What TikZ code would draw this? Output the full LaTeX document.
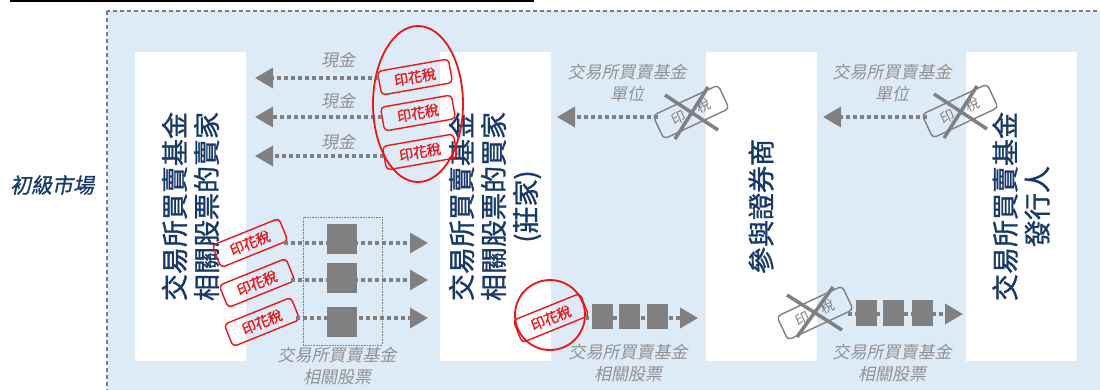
\documentclass[tikz,border=0pt]{standalone}
\usepackage{fontspec}
\newfontfamily\tcfont{Noto Sans CJK TC}
\newfontfamily\tcbold{Noto Sans CJK TC}[FakeBold=1.2]
\newfontfamily\tcslant{Noto Sans CJK TC}[FakeSlant=0.2]
\newfontfamily\tcslantbold{Noto Sans CJK TC}[FakeSlant=0.2, FakeBold=1]
\usepackage{tikz}
\usetikzlibrary{arrows.meta, positioning}

\definecolor{bgblue}{RGB}{221,235,247}
\definecolor{rimblue}{RGB}{100,130,160}
\definecolor{navy}{RGB}{24,58,105}
\definecolor{stampred}{RGB}{240,20,20}
\definecolor{flowgray}{RGB}{128,128,128}
\definecolor{notegray}{RGB}{145,145,145}

\tikzset{
  party/.style={fill=white, rotate=90, minimum width=309, minimum height=111,
    inner sep=0, text=navy, align=center, font=\tcbold\fontsize{27}{32}\selectfont},
  flow/.style={draw=flowgray, line width=3.5pt, dash pattern=on 3.5pt off 3.5pt,
    -{Triangle[length=18pt,width=20pt]}},
  stamp/.style={draw=stampred, text=stampred, line width=1.4pt, rounded corners=4pt,
    minimum width=72, minimum height=24, inner sep=0, rotate=10,
    font=\tcbold\fontsize{14}{14}\selectfont},
  nostamp/.style={stamp, draw=flowgray, text=flowgray, rotate=15, minimum height=26,
    font=\tcfont\fontsize{14}{14}\selectfont},
  cross/.style={draw=flowgray, line width=3.5pt},
  lot/.style={fill=flowgray, minimum width=21, minimum height=25, inner sep=0},
  note/.style={text=notegray, align=center, inner sep=0,
    font=\tcslant\fontsize{17}{22}\selectfont},
}

\begin{document}
\begin{tikzpicture}[x=1pt, y=-1pt]
    \useasboundingbox (0,0) rectangle (1100,389);
    \clip (0,0) rectangle (1100,389);
    % frame and title rule
    \draw[black, line width=2.5pt] (10,1) -- (534,1);
    \draw[rimblue, fill=bgblue, line width=1.2pt, dash pattern=on 4pt off 3pt] (107,11) rectangle (1120,410);
    \node[text=navy, font=\tcslantbold\fontsize{21}{21}\selectfont] (market) at (52,185) {初級市場};

    % the four parties
    \node[party] (seller) at (190.5,206.5) {交易所買賣基金\\相關股票的賣家};
    \node[party] (buyer) at (495,206.5) {交易所買賣基金\\相關股票的買家\\(莊家)};
    \node[party] (broker) at (761,206.5) {參與證券商};
    \node[party] (issuer) at (1021,206.5) {交易所買賣基金\\發行人};

    % cash back to the seller
    \node[stamp] (taxA) at (415,77) {印花稅};
    \node[stamp] (taxB) at (418,113) {印花稅};
    \node[stamp] (taxC) at (420,152) {印花稅};
    \coordinate (cashA) at (255,78);
    \coordinate (cashB) at (255,117);
    \coordinate (cashC) at (255,156);
    \draw[flow] (taxA.west |- cashA) -- (cashA);
    \draw[flow] (taxB.west |- cashB) -- (cashB);
    \draw[flow] (taxC.west |- cashC) -- (cashC);
    \node[note] (noteA) at (338,60) {現金};
    \node[note] (noteB) at (338,101) {現金};
    \node[note] (noteC) at (338,142) {現金};
    \draw[stampred, line width=1.8pt] (418,104) ellipse [x radius=45pt, y radius=78pt];

    % shares to the buyer
    \node[stamp, rotate=12] (taxD) at (250,243) {印花稅};
    \node[stamp, rotate=12] (taxE) at (257,283) {印花稅};
    \node[stamp, rotate=12] (taxF) at (262,322) {印花稅};
    \coordinate (shareD) at (428,243);
    \coordinate (shareE) at (428,280);
    \coordinate (shareF) at (428,318);
    \draw[flow] (taxD.east |- shareD) -- (shareD);
    \draw[flow] (taxE.east |- shareE) -- (shareE);
    \draw[flow] (taxF.east |- shareF) -- (shareF);
    \node[draw=flowgray, densely dotted, line width=0.6pt, minimum width=79, minimum height=128, inner sep=0] (basket) at (342.5,281) {};
    \node[lot, minimum width=30, minimum height=30] (lotD) at (342,239) {};
    \node[lot, minimum width=30, minimum height=30] (lotE) at (342,278) {};
    \node[lot, minimum width=30, minimum height=30] (lotF) at (342,321.5) {};
    \node[note] (noteD) at (337,366) {交易所買賣基金\\相關股票};

    % shares from the buyer to the broker
    \node[stamp, rotate=12] (taxG) at (551,318) {印花稅};
    \draw[stampred, line width=1.8pt] (550,315) circle [radius=35pt];
    \coordinate (shareG) at (698,318);
    \draw[flow] (taxG.east |- shareG) -- (shareG);
    \node[lot] (lotG) at (602.5,316.5) {};
    \node[lot] (lotH) at (629,316.5) {};
    \node[lot] (lotI) at (657,316.5) {};
    \node[note] (noteG) at (628,363) {交易所買賣基金\\相關股票};

    % units, no stamp duty
    \node[nostamp] (freeA) at (691,112) {印\hspace{1em}稅};
    \coordinate (unitA) at (557,117);
    \draw[flow] (freeA.west |- unitA) -- (unitA);
    \draw[cross] ([shift={(-26,-17)}]freeA.center) -- ([shift={(27,18)}]freeA.center);
    \draw[cross] ([shift={(17,-25)}]freeA.center) -- ([shift={(-16,27)}]freeA.center);
    \node[note] (noteH) at (627,83) {交易所買賣基金\\單位};

    \node[nostamp] (freeB) at (960,111) {印\hspace{1em}稅};
    \coordinate (unitB) at (823,117);
    \draw[flow] (freeB.west |- unitB) -- (unitB);
    \draw[cross] ([shift={(-26,-17)}]freeB.center) -- ([shift={(27,18)}]freeB.center);
    \draw[cross] ([shift={(17,-25)}]freeB.center) -- ([shift={(-16,27)}]freeB.center);
    \node[note] (noteI) at (892,83) {交易所買賣基金\\單位};

    % shares from the broker to the issuer
    \node[nostamp] (freeC) at (815,313) {印\hspace{1em}稅};
    \coordinate (shareJ) at (963,314);
    \draw[flow] (freeC.east |- shareJ) -- (shareJ);
    \draw[cross] ([shift={(-28,-18)}]freeC.center) -- ([shift={(27,17)}]freeC.center);
    \draw[cross] ([shift={(18,-26)}]freeC.center) -- ([shift={(-18,24)}]freeC.center);
    \node[lot, minimum height=26] (lotJ) at (866,313) {};
    \node[lot, minimum height=26] (lotK) at (893.5,313) {};
    \node[lot, minimum height=26] (lotL) at (922,313) {};
    \node[note] (noteJ) at (892,363) {交易所買賣基金\\相關股票};
\end{tikzpicture}
\end{document}
